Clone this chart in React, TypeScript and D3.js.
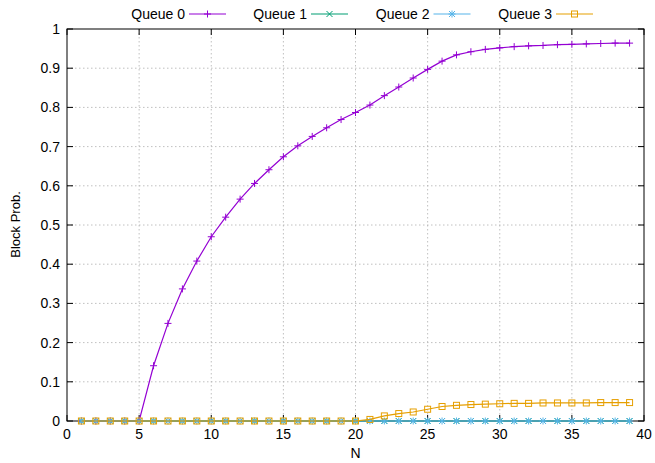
import React from "react";
import * as d3 from "d3";

const N: number[] = Array.from({ length: 39 }, (_, i) => i + 1);
const queue0: number[] = [
  0, 0, 0, 0, 0, 0.141, 0.249, 0.337, 0.408, 0.47,
  0.52, 0.566, 0.606, 0.641, 0.674, 0.702, 0.726, 0.748, 0.769, 0.787,
  0.806, 0.83, 0.852, 0.875, 0.897, 0.918, 0.934, 0.942, 0.948, 0.952,
  0.955, 0.957, 0.958, 0.96, 0.961, 0.962, 0.963, 0.964, 0.964,
];
const queue1: number[] = N.map(() => 0);
const queue2: number[] = N.map(() => 0);
const queue3: number[] = [
  0, 0, 0, 0, 0, 0, 0, 0, 0, 0,
  0, 0, 0, 0, 0, 0, 0, 0, 0, 0,
  0.004, 0.013, 0.019, 0.023, 0.03, 0.037, 0.04, 0.042, 0.043, 0.044,
  0.045, 0.045, 0.046, 0.046, 0.046, 0.046, 0.047, 0.047, 0.047,
];
const seriesNames = ["Queue 0", "Queue 1", "Queue 2", "Queue 3"];
const seriesColors = ["#9400d3", "#009e73", "#56b4e9", "#e69f00"];
const seriesValues = [queue0, queue1, queue2, queue3];
const xTicks = [0, 5, 10, 15, 20, 25, 30, 35, 40];
const yTicks = [0, 0.1, 0.2, 0.3, 0.4, 0.5, 0.6, 0.7, 0.8, 0.9, 1];

const W = 655, H = 463;
const L = 67, R = 644, T = 29, B = 421;
const FONT = "'Liberation Sans', Arial, sans-serif";

function Marker({ kind, x, y, color }: { kind: number; x: number; y: number; color: string }) {
  const s = 3.5;
  if (kind === 0)
    return <path d={`M${x - s},${y}H${x + s}M${x},${y - s}V${y + s}`} stroke={color} strokeWidth={1} fill="none" />;
  if (kind === 1)
    return <path d={`M${x - s + 0.5},${y - s + 0.5}L${x + s - 0.5},${y + s - 0.5}M${x - s + 0.5},${y + s - 0.5}L${x + s - 0.5},${y - s + 0.5}`} stroke={color} strokeWidth={1} fill="none" />;
  if (kind === 2)
    return <path d={`M${x - s},${y}H${x + s}M${x},${y - s}V${y + s}M${x - s + 0.5},${y - s + 0.5}L${x + s - 0.5},${y + s - 0.5}M${x - s + 0.5},${y + s - 0.5}L${x + s - 0.5},${y - s + 0.5}`} stroke={color} strokeWidth={1} fill="none" />;
  return <rect x={x - 3} y={y - 3} width={6} height={6} stroke={color} strokeWidth={1} fill="none" />;
}

export default function App() {
  const x = d3.scaleLinear().domain([0, 40]).range([L, R]);
  const y = d3.scaleLinear().domain([0, 1]).range([B, T]);
  const line = d3.line<number>().x((_, i) => x(N[i])).y((v) => y(v));
  const legendEnds = [226, 348, 470.5, 593];
  return (
    <svg width={W} height={H} style={{ position: "absolute", left: 0, top: 0, background: "#fff" }} fontFamily={FONT}>
      <rect width={W} height={H} fill="#fff" />
      {/* grid */}
      {xTicks.slice(1, -1).map((t) => (
        <line key={"gx" + t} x1={x(t)} x2={x(t)} y1={T} y2={B} stroke="#b0b0b0" strokeWidth={0.8} strokeDasharray="1.5,2.5" />
      ))}
      {yTicks.slice(1, -1).map((t) => (
        <line key={"gy" + t} x1={L} x2={R} y1={y(t)} y2={y(t)} stroke="#b0b0b0" strokeWidth={0.8} strokeDasharray="1.5,2.5" />
      ))}
      {/* ticks */}
      {xTicks.map((t) => (
        <g key={"tx" + t}>
          <line x1={x(t)} x2={x(t)} y1={B} y2={B - 6} stroke="#000" />
          <line x1={x(t)} x2={x(t)} y1={T} y2={T + 6} stroke="#000" />
          <text x={x(t)} y={438.5} textAnchor="middle" fontSize={14} fill="#000">{t}</text>
        </g>
      ))}
      {yTicks.map((t) => (
        <g key={"ty" + t}>
          <line x1={L} x2={L + 6} y1={y(t)} y2={y(t)} stroke="#000" />
          <line x1={R} x2={R - 6} y1={y(t)} y2={y(t)} stroke="#000" />
          <text x={60} y={y(t) + 5} textAnchor="end" fontSize={14} fill="#000">{d3.format("~g")(t)}</text>
        </g>
      ))}
      <rect x={L} y={T} width={R - L} height={B - T} fill="none" stroke="#000" strokeWidth={1} />
      {/* series */}
      {seriesValues.map((vals, si) => (
        <g key={"s" + si}>
          <path d={line(vals) || ""} fill="none" stroke={seriesColors[si]} strokeWidth={1.2} />
          {vals.map((v, i) => (
            <Marker key={i} kind={si} x={x(N[i])} y={y(v)} color={seriesColors[si]} />
          ))}
        </g>
      ))}
      {/* labels */}
      <text x={x(20)} y={457.5} textAnchor="middle" fontSize={14} fill="#000">N</text>
      <text transform={`translate(19.5,${(192 + 257) / 2}) rotate(-90)`} textAnchor="middle" fontSize={13} fill="#000">Block Prob.</text>
      {/* legend */}
      {seriesNames.map((name, si) => {
        const end = legendEnds[si];
        const start = end - 37;
        return (
          <g key={"l" + si}>
            <text x={start - 4} y={18.5} textAnchor="end" fontSize={14} fill="#000">{name}</text>
            <line x1={start} x2={end} y1={14} y2={14} stroke={seriesColors[si]} strokeWidth={1.2} />
            <Marker kind={si} x={(start + end) / 2} y={14} color={seriesColors[si]} />
          </g>
        );
      })}
    </svg>
  );
}
